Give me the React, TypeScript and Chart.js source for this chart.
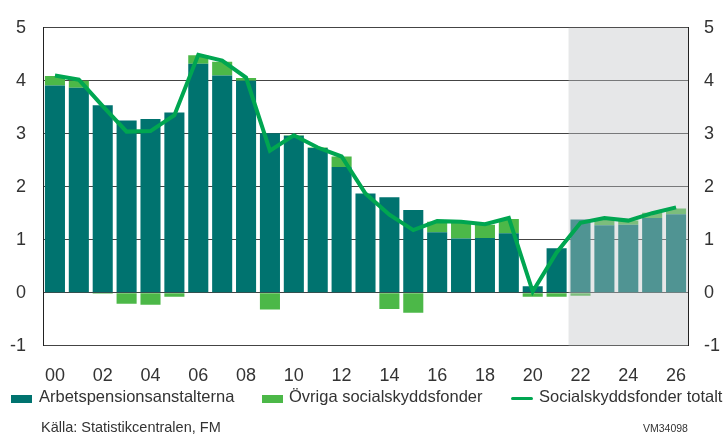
import { useEffect, useRef } from "react";
import { Chart, registerables } from "chart.js";

Chart.register(...registerables);

// Years 2000–2026, shown as two-digit labels
const years = [
  "00", "01", "02", "03", "04", "05", "06", "07", "08", "09",
  "10", "11", "12", "13", "14", "15", "16", "17", "18", "19",
  "20", "21", "22", "23", "24", "25", "26",
];

// First forecast year (shaded area)
const forecastFrom = "22";

// Surplus, % of GDP
const arbetspension = [
  3.91, 3.87, 3.54, 3.25, 3.28, 3.4, 4.32, 4.1, 4.0, 3.01,
  2.96, 2.73, 2.37, 1.87, 1.8, 1.56, 1.14, 1.02, 1.03, 1.12,
  0.12, 0.84, 1.38, 1.27, 1.28, 1.41, 1.48,
];

const ovrigaFonder = [
  0.18, 0.13, -0.02, -0.21, -0.23, -0.08, 0.16, 0.26, 0.05, -0.32,
  0.01, 0.01, 0.2, 0.0, -0.31, -0.38, 0.2, 0.32, 0.25, 0.27,
  -0.08, -0.08, -0.06, 0.1, 0.08, 0.1, 0.11,
];

const totalt = [
  4.1, 4.02, 3.52, 3.04, 3.05, 3.35, 4.49, 4.38, 4.06, 2.68,
  2.97, 2.74, 2.57, 1.87, 1.47, 1.18, 1.35, 1.34, 1.29, 1.41,
  0.02, 0.76, 1.32, 1.41, 1.36, 1.5, 1.61,
];

const yTicks = [-1, 0, 1, 2, 3, 4, 5];

const TEAL = "#00736f";
const GREEN = "#4cb848";
const LINE_GREEN = "#00a651";
const TEXT = "#333333";
const FONT = '"Liberation Sans", Arial, Helvetica, sans-serif';

// Grey veil over the forecast years, drawn after the bars but under the line
const forecastShade = {
  id: "forecastShade",
  beforeDatasetDraw(chart: any, args: any) {
    if (args.index !== 2) return;
    const xScale = chart.scales.x;
    const i = years.indexOf(forecastFrom);
    const left = (xScale.getPixelForValue(i - 1) + xScale.getPixelForValue(i)) / 2;
    const { top, bottom, right } = chart.chartArea;
    const ctx = chart.ctx;
    ctx.save();
    ctx.fillStyle = "rgba(194,196,198,0.41)";
    ctx.fillRect(left, top, right - left, bottom - top);
    ctx.restore();
  },
};

const tickFont = { family: FONT, size: 18 };

export default function App() {
  const canvasRef = useRef<HTMLCanvasElement>(null);

  useEffect(() => {
    const chart = new Chart(canvasRef.current!, {
      type: "bar",
      data: {
        labels: years,
        datasets: [
          {
            type: "bar",
            label: "Arbetspensionsanstalterna",
            data: arbetspension,
            backgroundColor: TEAL,
            borderWidth: 0,
            stack: "bars",
            order: 1,
            barPercentage: 0.84,
            categoryPercentage: 1,
          },
          {
            type: "bar",
            label: "Övriga socialskyddsfonder",
            data: ovrigaFonder,
            backgroundColor: GREEN,
            borderWidth: 0,
            stack: "bars",
            order: 1,
            barPercentage: 0.84,
            categoryPercentage: 1,
          },
          {
            type: "line",
            label: "Socialskyddsfonder totalt",
            data: totalt,
            borderColor: LINE_GREEN,
            borderWidth: 4,
            pointRadius: 0,
            tension: 0,
            fill: false,
            stack: "total",
            order: 0,
          } as any,
        ],
      },
      options: {
        responsive: false,
        animation: false,
        devicePixelRatio: 1,
        layout: { padding: { top: 20, bottom: 0, left: 0, right: 0 } },
        plugins: {
          legend: { display: false },
          tooltip: { enabled: false },
        },
        scales: {
          x: {
            stacked: true,
            offset: true,
            grid: { display: false },
            border: { display: false },
            ticks: {
              font: tickFont,
              color: TEXT,
              padding: 12,
              autoSkip: false,
              maxRotation: 0,
              minRotation: 0,
              callback: (_v: any, i: number) => (i % 2 === 0 ? years[i] : ""),
            },
            afterFit: (s: any) => {
              s.height = 88.4;
            },
          },
          y: {
            stacked: true,
            position: "left",
            min: yTicks[0],
            max: yTicks[yTicks.length - 1],
            grid: { color: "#444444", lineWidth: 1, drawTicks: false },
            border: { display: true, color: "#222222", width: 1 },
            ticks: {
              stepSize: 1,
              font: tickFont,
              color: TEXT,
              padding: 17,
            },
            afterFit: (s: any) => {
              s.width = 43;
            },
          },
          y2: {
            position: "right",
            min: yTicks[0],
            max: yTicks[yTicks.length - 1],
            grid: { display: false, drawTicks: false },
            border: { display: true, color: "#222222", width: 1 },
            ticks: {
              stepSize: 1,
              font: tickFont,
              color: TEXT,
              padding: 16,
            },
            afterFit: (s: any) => {
              s.width = 39;
            },
          },
        },
      },
      plugins: [forecastShade],
    } as any);
    return () => chart.destroy();
  }, []);

  // Place text so its baseline lands on the given y
  const textAt = (left: number, baseline: number, size: number): any => ({
    position: "absolute",
    left,
    top: baseline - 0.8465 * size,
    fontSize: size,
    lineHeight: `${size}px`,
    whiteSpace: "nowrap",
    color: TEXT,
  });

  return (
    <div
      style={{
        position: "fixed",
        left: 0,
        top: 0,
        width: 727,
        height: 434,
        background: "#ffffff",
        fontFamily: FONT,
        overflow: "hidden",
      }}
    >
      <canvas
        ref={canvasRef}
        width={727}
        height={434}
        style={{ position: "absolute", left: 0, top: 0, width: 727, height: 434 }}
      />
      <div style={{ position: "absolute", left: 11, top: 395, width: 21, height: 8, background: TEAL }} />
      <div style={textAt(39, 402.3, 16.5)}>Arbetspensionsanstalterna</div>
      <div style={{ position: "absolute", left: 262, top: 395, width: 21, height: 8, background: GREEN }} />
      <div style={textAt(289, 402.3, 16.5)}>Övriga socialskyddsfonder</div>
      <div
        style={{
          position: "absolute",
          left: 511,
          top: 396.5,
          width: 22,
          height: 3.5,
          borderRadius: 2,
          background: LINE_GREEN,
        }}
      />
      <div style={textAt(539, 402.3, 16.5)}>Socialskyddsfonder totalt</div>
      <div style={textAt(41, 432.7, 14.5)}>Källa: Statistikcentralen, FM</div>
      <div style={textAt(643, 432, 10.5)}>VM34098</div>
    </div>
  );
}
